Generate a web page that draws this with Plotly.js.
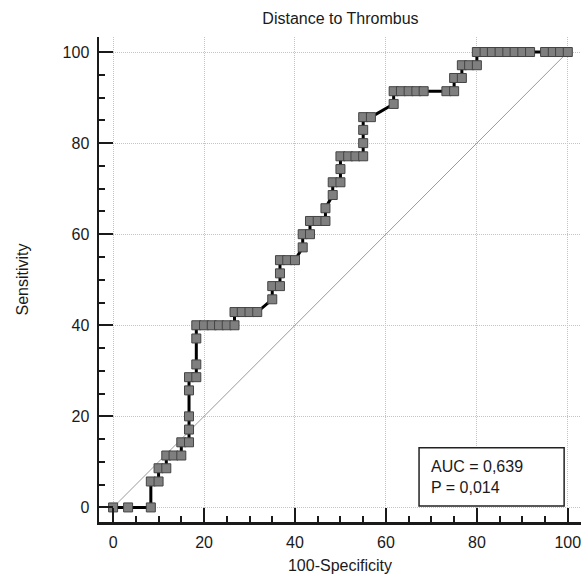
<!DOCTYPE html>
<html>
<head>
<meta charset="utf-8">
<script src="https://cdn.plot.ly/plotly-3.0.1.min.js"></script>
<style>html,body{margin:0;padding:0;background:#fff;}#chart{width:587px;height:580px;}</style>
</head>
<body>
<div id="chart"></div>
<script>
// ROC curve points: 100-Specificity (x) and Sensitivity (y)
var fpr = [0,3.3,8.3, 8.3,10.0, 10.0,11.7, 11.7,13.3,15.0, 15.0,16.7, 16.7,16.7,16.7, 16.7,18.3, 18.3,18.3,
  18.3,20.0,21.7,23.3,25.0,26.7, 26.7,28.3,30.0,31.7, 35.0, 35.0,36.7, 36.7, 36.7,38.3,40.0, 41.7,
  41.7,43.3, 43.3,45.0,46.7, 46.7, 48.3, 48.3,50.0, 50.0, 50.0,51.7,53.3,55.0, 55.0,55.0, 55.0,56.7,
  61.7, 61.7,63.3,65.0,66.7,68.3,73.3,75.0, 75.0,76.7, 76.7,78.3,80.0,
  80.0,81.7,83.3,85.0,86.7,88.3,90.0,91.7,95.0,96.7,98.3,100];
var sens = [0,0,0, 5.7,5.7, 8.6,8.6, 11.4,11.4,11.4, 14.3,14.3, 17.1,20.0,25.7, 28.6,28.6, 31.4,37.1,
  40.0,40.0,40.0,40.0,40.0,40.0, 42.9,42.9,42.9,42.9, 45.7, 48.6,48.6, 51.4, 54.3,54.3,54.3, 57.1,
  60.0,60.0, 62.9,62.9,62.9, 65.7, 68.6, 71.4,71.4, 74.3, 77.1,77.1,77.1,77.1, 80.0,82.9, 85.7,85.7,
  88.6, 91.4,91.4,91.4,91.4,91.4,91.4,91.4, 94.3,94.3, 97.1,97.1,97.1,
  100,100,100,100,100,100,100,100,100,100,100,100];
var diagX = [0, 100];
var diagY = [0, 100];
var tickVals = [0, 20, 40, 60, 80, 100];
var tickText = ["0", "20", "40", "60", "80", "100"];
var chartTitle = "Distance to Thrombus";
var xTitle = "100-Specificity";
var yTitle = "Sensitivity";
var statsText = "AUC = 0,639<br>P = 0,014";

var font = "Liberation Sans, Arial, sans-serif";
var axisCommon = {
  showline: true, linecolor: "#1a1a1a", linewidth: 2.5,
  ticks: "inside", ticklen: 14, tickwidth: 2, tickcolor: "#1a1a1a",
  tickmode: "array", tickvals: tickVals, ticktext: tickText,
  showgrid: true, gridcolor: "#c4c4c4", gridwidth: 1, griddash: "1px,1px",
  zeroline: false,
  tickfont: {family: font, size: 16, color: "#1a1a1a"},
  minor: {dtick: 5, tick0: 0, ticks: "inside", ticklen: 6, tickwidth: 2, tickcolor: "#1a1a1a", showgrid: false},
  fixedrange: true
};

var traces = [
  {x: diagX, y: diagY, mode: "lines", line: {color: "#9a9a9a", width: 1}, hoverinfo: "skip", showlegend: false},
  {x: fpr, y: sens, mode: "lines+markers", line: {color: "#000", width: 3},
   marker: {symbol: "square", size: 9, color: "#7f7f7f", line: {color: "#444", width: 1}}, showlegend: false}
];

var layout = {
  width: 587, height: 580,
  margin: {l: 99, r: 6, t: 37, b: 58},
  paper_bgcolor: "#fff", plot_bgcolor: "#fff",
  font: {family: font, color: "#1a1a1a"},
  title: {text: chartTitle, font: {family: font, size: 16, color: "#1a1a1a"}, x: 0.58, xanchor: "center", y: 0.969, yanchor: "middle"},
  xaxis: Object.assign({}, axisCommon, {range: [-3.1, 102.9], ticklabelstandoff: 4,
    title: {text: xTitle, font: {family: font, size: 16, color: "#1a1a1a"}, standoff: 10}}),
  yaxis: Object.assign({}, axisCommon, {range: [-3.2, 103.3], ticklabelstandoff: 4,
    title: {text: yTitle, font: {family: font, size: 16, color: "#1a1a1a"}, standoff: 30}}),
  shapes: [{type: "rect", xref: "paper", yref: "paper", x0: 0.664, x1: 0.965, y0: 0.033, y1: 0.153,
    line: {color: "#222", width: 1.5}, fillcolor: "#fff", layer: "above"}],
  annotations: [{xref: "paper", yref: "paper", x: 0.685, y: 0.093, xanchor: "left", yanchor: "middle",
    text: statsText, align: "left", showarrow: false, font: {family: font, size: 16, color: "#1a1a1a"}}]
};

Plotly.newPlot("chart", traces, layout, {displayModeBar: false, staticPlot: true});
</script>
</body>
</html>
